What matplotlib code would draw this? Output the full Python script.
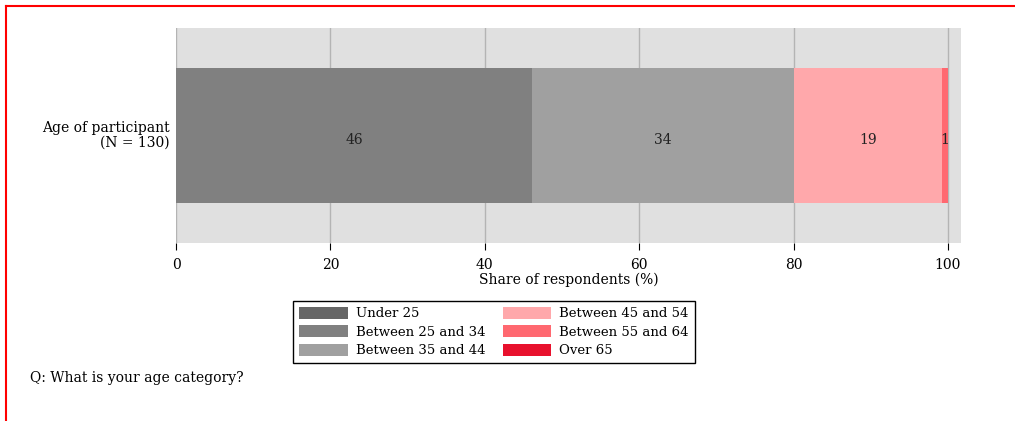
import matplotlib
matplotlib.use("Agg")
import matplotlib.pyplot as plt
from matplotlib.lines import Line2D

# age categories and share of respondents (%), N = 130
categories = ["Under 25", "Between 25 and 34", "Between 35 and 44",
              "Between 45 and 54", "Between 55 and 64", "Over 65"]
shares = [0.0, 46.15, 33.85, 19.23, 0.77, 0.0]
colors = ["#666666", "#808080", "#a0a0a0", "#ffa8ab", "#ff6870", "#e8112d"]
row_label = "Age of participant\n(N = 130)"
xticks = [0, 20, 40, 60, 80, 100]

plt.rcParams["font.family"] = ["DejaVu Serif"]
plt.rcParams["font.size"] = 10

fig = plt.figure(figsize=(10.15, 4.21), dpi=100)
ax = fig.add_axes([0.1734, 0.4228, 0.7734, 0.5107])
ax.set_facecolor("#e0e0e0")

left = 0
for cat, val, col in zip(categories, shares, colors):
    ax.barh([0], [val], left=left, height=0.628, color=col, label=cat, zorder=2)
    if val > 0:
        ax.text(left + val / 2, -0.02, str(int(round(val))), ha="center", va="center",
                color="#222222", fontsize=10, zorder=3)
    left += val

ax.set_xlim(0, 101.7)
ax.set_ylim(-0.5, 0.5)
ax.set_xticks(xticks)
ax.set_xticklabels([str(t) for t in xticks])
ax.set_yticks([])
ax.grid(axis="x", color="#b4b4b4", linewidth=1, zorder=1)
ax.set_axisbelow(True)
for s in ax.spines.values():
    s.set_visible(False)
ax.tick_params(axis="x", length=5, width=0.8, color="black", pad=6)
ax.set_xlabel("Share of respondents (%)", labelpad=0)

fig.text(0.1675, 0.6785, row_label, ha="right", va="center", linespacing=1.0)

leg = fig.legend(loc="center", bbox_to_anchor=(0.4867, 0.2114), ncol=2,
                 fancybox=False, edgecolor="black", framealpha=1, fontsize=9.5,
                 handlelength=3.7, handleheight=1.0, labelspacing=0.38,
                 columnspacing=1.3, handletextpad=0.6, borderpad=0.45,
                 borderaxespad=0)
leg.get_frame().set_linewidth(1.0)

fig.text(30 / 1015, 1 - 378 / 421, "Q: What is your age category?", ha="left", va="center")

# red frame (top and left edges)
fig.add_artist(Line2D([6 / 1015, 1], [1 - 6 / 421, 1 - 6 / 421], color="red", linewidth=1.5,
                      transform=fig.transFigure))
fig.add_artist(Line2D([6 / 1015, 6 / 1015], [0, 1 - 6 / 421], color="red", linewidth=1.5,
                      transform=fig.transFigure))

fig.savefig("out.png", dpi=100)
